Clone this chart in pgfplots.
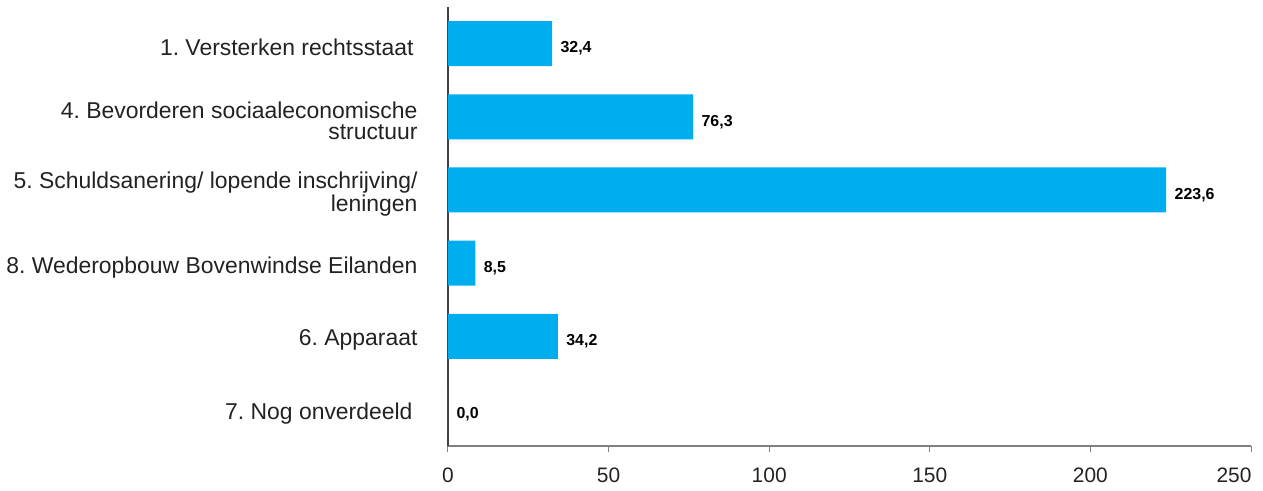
\documentclass[border=0pt]{standalone}
\usepackage{pgfplots}
\pgfplotsset{compat=1.18}
\usepackage{fontspec}
\setmainfont{Liberation Sans}
\frenchspacing
\definecolor{barblue}{HTML}{00AEEF}
\definecolor{axgray}{HTML}{808080}
\definecolor{txt}{HTML}{222222}

\begin{document}
\begin{tikzpicture}
\begin{axis}[
    name=ax,
    xbar,
    scale only axis,
    width=803bp, height=439bp,
    xmin=0, xmax=250,
    ymin=-0.5, ymax=5.5,
    y dir=reverse,
    bar width=45bp,
    axis x line*=bottom,
    axis y line*=left,
    x axis line style={draw=axgray, line width=1.2bp},
    y axis line style={draw=black!75, line width=1.2bp},
    xtick={0,50,100,150,200},
    extra x ticks={250},
    extra x tick style={xticklabel style={anchor=north east, xshift=4bp}},
    tick align=outside,
    major tick length=6bp,
    xtick style={draw=axgray, line width=1bp},
    ytick={0,1,2,3,4,5},
    ytick style={draw=none},
    yticklabels={
      {1. Versterken rechtsstaat\hspace{4bp}},
      {4. Bevorderen sociaaleconomische\\structuur},
      {5. Schuldsanering/ lopende inschrijving/\\leningen},
      {8. Wederopbouw Bovenwindse Eilanden},
      {6. Apparaat},
      {7. Nog onverdeeld\hspace{5bp}}},
    yticklabel style={align=right, text=txt, font=\fontsize{23}{21}\selectfont, xshift=-21bp, yshift=-4bp},
    xticklabel style={text=txt, font=\fontsize{21}{23}\selectfont, yshift=-12bp},
    /pgf/number format/assume math mode=true,
    nodes near coords,
    point meta=x,
    nodes near coords style={
      font=\fontsize{16}{18}\selectfont\bfseries, text=black, anchor=west, xshift=5bp, yshift=-5bp,
      /pgf/number format/fixed, /pgf/number format/fixed zerofill,
      /pgf/number format/precision=1, /pgf/number format/use comma},
    clip=false,
]
\addplot[fill=barblue, draw=none] coordinates {
  (32.4,0) (76.3,1) (223.6,2) (8.5,3) (34.2,4) (0.0,5)};
\end{axis}
\pgfresetboundingbox
\path ([xshift=-448bp,yshift=-45bp]ax.south west) rectangle ([xshift=815bp,yshift=446bp]ax.south west);
\end{tikzpicture}
\end{document}
